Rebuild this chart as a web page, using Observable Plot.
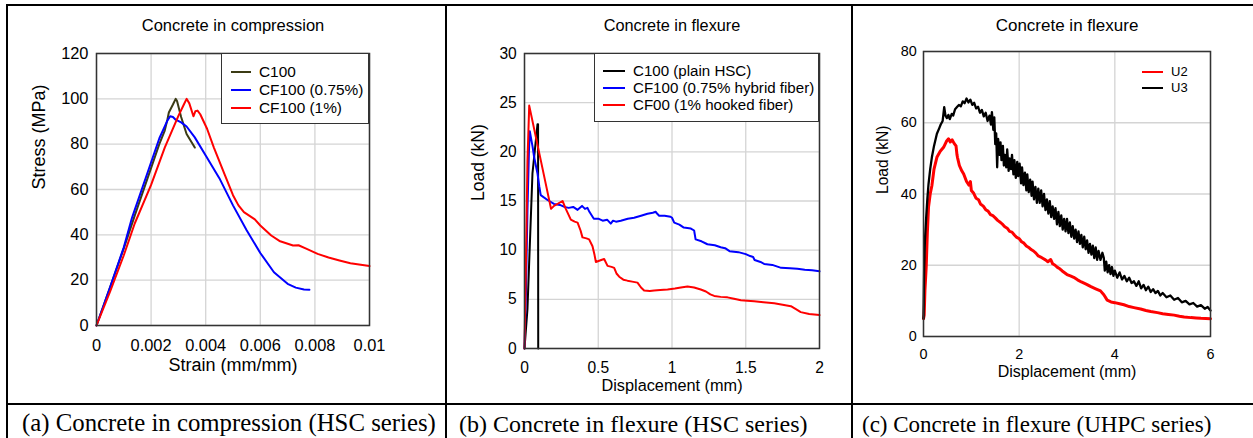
<!DOCTYPE html>
<html><head><meta charset="utf-8">
<script src="https://cdn.jsdelivr.net/npm/d3@7"></script>
<script src="https://cdn.jsdelivr.net/npm/@observablehq/plot@0.6"></script>
<style>
html,body{margin:0;padding:0;background:#fff;}
#root{position:relative;width:1253px;height:438px;overflow:hidden;background:#fff;font-family:'Liberation Sans',Arial,sans-serif;}
.pl{position:absolute;}
.hl{position:absolute;background:#000;}
.cap{position:absolute;font-family:'Liberation Serif','Times New Roman',serif;white-space:nowrap;color:#000;}
.leg{position:absolute;background:#fff;box-sizing:border-box;}
.sw{position:absolute;height:2px;}
.lt{position:absolute;white-space:nowrap;line-height:18px;color:#000;}
</style></head><body><div id="root"></div>
<script>
// ---------- Panel (a): Concrete in compression ----------
const aTitle = "Concrete in compression";
const aXLabel = "Strain (mm/mm)";
const aYLabel = "Stress (MPa)";
const aXTicks = [0, 0.002, 0.004, 0.006, 0.008, 0.01];
const aXTickLabels = ["0", "0.002", "0.004", "0.006", "0.008", "0.01"];
const aYTicks = [0, 20, 40, 60, 80, 100, 120];
const aYTickLabels = ["0", "20", "40", "60", "80", "100", "120"];
const aNames = ["C100", "CF100 (0.75%)", "CF100 (1%)"];
const aColors = ["#3b3b14", "#0000ff", "#ff0000"];
const aC100 = [[0,0],[0.0005,17],[0.001,34],[0.0014,48.5],[0.0019,66],[0.0023,80],[0.0025,86],[0.0026,91],[0.00265,94],[0.0028,97.5],[0.0029,100],[0.00295,99],[0.0031,92],[0.0033,84.5],[0.0036,78.5]];
const aCF075 = [[0,0],[0.0005,17],[0.001,34.5],[0.0013,47.5],[0.0019,68.5],[0.0023,82.5],[0.0026,90.5],[0.0027,92.3],[0.0028,92],[0.0029,90.8],[0.0031,89.6],[0.0033,87.8],[0.0036,83],[0.004,75],[0.0045,65],[0.005,53],[0.0055,42],[0.006,32],[0.0065,23.5],[0.007,18.4],[0.0073,16.7],[0.0076,15.9],[0.0078,15.8]];
const aCF1 = [[0,0],[0.0005,15],[0.001,31],[0.0014,45],[0.002,62],[0.0025,78.5],[0.003,92.5],[0.0032,97.5],[0.0033,100],[0.0034,98],[0.00355,92.3],[0.00362,94.5],[0.0037,94.8],[0.0038,93.2],[0.00405,86.8],[0.0043,78.5],[0.0047,66.5],[0.005,57.5],[0.0052,53],[0.0054,50],[0.0058,46.8],[0.006,44.1],[0.0064,39.7],[0.0067,37.3],[0.0072,35.3],[0.0074,35.4],[0.0077,33.8],[0.0081,31.6],[0.0085,30],[0.0089,28.7],[0.0093,27.5],[0.01,26.2]];

// ---------- Panel (b): Concrete in flexure (HSC) ----------
const bTitle = "Concrete in flexure";
const bXLabel = "Displacement (mm)";
const bYLabel = "Load (kN)";
const bXTicks = [0, 0.5, 1, 1.5, 2];
const bXTickLabels = ["0", "0.5", "1", "1.5", "2"];
const bYTicks = [0, 5, 10, 15, 20, 25, 30];
const bYTickLabels = ["0", "5", "10", "15", "20", "25", "30"];
const bNames = ["C100 (plain HSC)", "CF100 (0.75% hybrid fiber)", "CF00 (1% hooked fiber)"];
const bColors = ["#000000", "#0000ff", "#ff0000"];
const bC100 = [[0,0],[0.02,4],[0.054,17.8],[0.088,22.8],[0.092,22.8],[0.093,0]];
const bCF075 = [[0,0],[0.01,6],[0.02,14],[0.03,20],[0.036,22.1],[0.043,21.5],[0.055,20.5],[0.065,19.5],[0.088,17.8],[0.1,16.5],[0.11,15.6],[0.156,15.1],[0.2,14.7],[0.24,14.6],[0.27,14.4],[0.3,14.3],[0.33,14.4],[0.36,14.1],[0.39,14.5],[0.41,14.2],[0.427,14.3],[0.44,13.9],[0.47,13.2],[0.5,13.2],[0.53,13.0],[0.56,13.1],[0.585,12.7],[0.6,13.0],[0.62,12.9],[0.653,13.0],[0.7,13.2],[0.743,13.3],[0.79,13.5],[0.834,13.7],[0.87,13.8],[0.89,13.9],[0.9,13.7],[0.913,13.5],[0.95,13.5],[0.99,13.4],[1.0,13.3],[1.015,12.8],[1.05,12.6],[1.08,12.3],[1.128,12.2],[1.15,12.0],[1.16,11.1],[1.2,10.9],[1.24,10.6],[1.29,10.5],[1.33,10.3],[1.36,10.2],[1.39,9.9],[1.45,9.8],[1.5,9.6],[1.53,9.4],[1.55,9.3],[1.56,9.0],[1.6,8.8],[1.625,8.6],[1.68,8.5],[1.74,8.2],[1.8,8.15],[1.85,8.1],[1.9,8.0],[1.95,7.95],[2.0,7.85]];
const bCF1 = [[0,0],[0.01,9],[0.02,19],[0.032,24.7],[0.18,14.2],[0.2,14.5],[0.258,15.0],[0.28,14.2],[0.314,13.1],[0.34,12.9],[0.36,12.8],[0.38,12.0],[0.393,11.3],[0.42,11.2],[0.438,11.1],[0.461,10.4],[0.475,9.5],[0.484,8.8],[0.52,9.0],[0.54,9.1],[0.563,8.4],[0.59,8.3],[0.608,8.2],[0.625,7.6],[0.642,7.3],[0.67,7.0],[0.698,6.9],[0.73,6.8],[0.766,6.7],[0.79,6.2],[0.811,5.9],[0.85,5.85],[0.879,5.9],[0.92,5.95],[0.97,6.0],[1.02,6.1],[1.06,6.2],[1.105,6.3],[1.15,6.2],[1.195,6.0],[1.23,5.8],[1.26,5.5],[1.286,5.35],[1.33,5.25],[1.376,5.2],[1.42,5.05],[1.467,4.9],[1.51,4.85],[1.557,4.8],[1.62,4.7],[1.693,4.6],[1.75,4.45],[1.806,4.3],[1.84,4.0],[1.873,3.7],[1.93,3.5],[2.0,3.4]];

// ---------- Panel (c): Concrete in flexure (UHPC) ----------
const cTitle = "Concrete in flexure";
const cXLabel = "Displacement (mm)";
const cYLabel = "Load (kN)";
const cXTicks = [0, 2, 4, 6];
const cXTickLabels = ["0", "2", "4", "6"];
const cYTicks = [0, 20, 40, 60, 80];
const cYTickLabels = ["0", "20", "40", "60", "80"];
const cNames = ["U2", "U3"];
const cColors = ["#ff0000", "#000000"];
const cU2 = [[0,5],[0.014,6],[0.03,13],[0.056,19.4],[0.08,29],[0.105,36.3],[0.14,40],[0.175,42.3],[0.22,47],[0.28,50.3],[0.35,52],[0.42,53.1],[0.48,54.8],[0.524,55.5],[0.56,54.6],[0.6,55.2],[0.64,54.2],[0.68,53.5],[0.7,51],[0.71,50.3],[0.75,48],[0.8,46.5],[0.84,45.6],[0.9,43.5],[0.95,42.5],[0.98,43.5],[1.0,41],[1.05,40.2],[1.1,38.8],[1.15,38.4],[1.19,37.2],[1.25,36.6],[1.3,35.6],[1.35,35.2],[1.4,34.2],[1.45,33.9],[1.5,33.3],[1.55,32.6],[1.61,32],[1.66,31.4],[1.7,30.8],[1.75,30.4],[1.8,29.5],[1.85,29.3],[1.9,28.5],[1.95,27.8],[2.0,27.5],[2.05,26.6],[2.1,26.2],[2.15,25.4],[2.2,25],[2.25,24.4],[2.3,24],[2.35,23.4],[2.4,22.6],[2.45,22.3],[2.5,21.9],[2.55,21.5],[2.6,21.0],[2.66,21.6],[2.7,20.4],[2.75,20.0],[2.8,19.4],[2.85,19.0],[2.9,18.4],[2.95,17.9],[3.0,17.4],[3.07,17.0],[3.14,16.6],[3.22,15.9],[3.3,15.3],[3.4,14.7],[3.5,14.0],[3.6,13.4],[3.7,12.8],[3.77,11.7],[3.84,10.2],[3.92,9.7],[4.0,9.5],[4.1,9.2],[4.19,8.9],[4.3,8.4],[4.4,8.1],[4.54,7.7],[4.65,7.3],[4.75,7.0],[4.89,6.7],[5.0,6.4],[5.12,6.2],[5.24,6.0],[5.35,5.7],[5.45,5.5],[5.59,5.3],[5.7,5.2],[5.8,5.1],[5.9,5.05],[6.0,5.0]];
const cU3 = [[0,5],[0.01,15],[0.014,19.4],[0.03,27],[0.056,33.4],[0.08,38.5],[0.105,42.8],[0.14,47],[0.175,50.3],[0.22,53.5],[0.28,56.9],[0.33,58.5],[0.36,59.5],[0.4,60.5],[0.433,64.4],[0.46,62],[0.49,61.3],[0.52,62.2],[0.55,61],[0.59,62.5],[0.62,62],[0.66,63.8],[0.7,64.4],[0.74,65],[0.78,64.6],[0.82,66],[0.86,65.5],[0.9,66.8],[0.94,65.7],[0.98,66.5],[1.02,65],[1.06,65.6],[1.1,64],[1.14,64.5],[1.18,62.8],[1.22,63.6],[1.26,61.8],[1.3,62.8],[1.34,60.5],[1.38,62],[1.41,59.5],[1.43,63],[1.46,58],[1.48,61.5],[1.5,54],[1.52,57],[1.54,47.5],[1.56,55.5],[1.59,51],[1.61,54.5],[1.63,49.5],[1.66,53.5],[1.68,48],[1.7,51],[1.73,47.5],[1.75,52.5],[1.78,46.5],[1.8,50],[1.83,47],[1.85,51],[1.88,45.5],[1.9,49.5],[1.93,44.5],[1.96,49],[1.98,45],[2.01,48.5],[2.04,43],[2.06,47.5],[2.09,42.5],[2.12,46],[2.15,41],[2.17,45.5],[2.2,40.5],[2.23,44],[2.26,39.5],[2.28,43.5],[2.31,38.5],[2.34,42],[2.37,37.5],[2.4,41.5],[2.43,37.5],[2.46,41],[2.49,36.5],[2.52,40],[2.55,35.5],[2.58,38.5],[2.61,34.5],[2.64,38],[2.67,33.5],[2.7,36.5],[2.73,33],[2.76,36],[2.79,31.5],[2.82,35],[2.85,31],[2.88,34],[2.91,30],[2.94,33],[2.97,29.5],[3.0,33],[3.03,29],[3.06,32],[3.09,28],[3.12,31],[3.15,27.5],[3.18,30],[3.21,26.5],[3.24,29.5],[3.27,26],[3.3,28.5],[3.33,25],[3.36,28],[3.39,24.5],[3.42,27],[3.45,23.5],[3.48,26],[3.51,23],[3.54,25.5],[3.57,22],[3.6,25],[3.63,21.5],[3.66,24],[3.7,21.5],[3.74,23.5],[3.77,22],[3.79,18.5],[3.82,21],[3.85,18],[3.88,20],[3.91,17.5],[3.94,19.5],[3.97,17],[4.0,18.5],[4.05,16.5],[4.1,18],[4.15,16],[4.2,17],[4.25,15.5],[4.3,16.5],[4.35,15],[4.4,15.5],[4.45,14.2],[4.5,15.5],[4.55,13.5],[4.6,14.5],[4.65,13],[4.7,14],[4.75,12.5],[4.8,13.3],[4.85,12.2],[4.9,12.8],[4.95,11.5],[5.0,12.2],[5.08,11],[5.16,11.5],[5.24,10.3],[5.32,10.8],[5.4,9.6],[5.48,10],[5.56,9],[5.64,9.4],[5.72,8.4],[5.8,8.8],[5.88,7.8],[5.94,8.3],[6.0,7.3]];

// Captions
const captions = ["(a) Concrete in compression (HSC series)", "(b) Concrete in flexure (HSC series)", "(c) Concrete in flexure (UHPC series)"];

const root = document.getElementById("root");
const FONT = "'Liberation Sans', Arial, sans-serif";

function panel(c) {
  const fmt = (ticks, labels) => (d) => labels[ticks.indexOf(d)];
  const svg = Plot.plot({
    width: c.width, height: c.height,
    marginLeft: c.m[0], marginRight: c.m[1], marginTop: c.m[2], marginBottom: c.m[3],
    x: {domain: c.xDomain, label: null},
    y: {domain: c.yDomain, label: null},
    style: {fontFamily: FONT, fontSize: c.tickFont + "px", background: "transparent", color: "#000", overflow: "visible"},
    marks: [
      Plot.gridX(c.xTicks, {stroke: "#d4d4d4", strokeOpacity: 1, strokeWidth: 1.3}),
      Plot.gridY(c.yTicks, {stroke: "#d4d4d4", strokeOpacity: 1, strokeWidth: 1.3}),
      ...c.series.map((s, i) => Plot.line(s, {x: (d) => d[0], y: (d) => d[1], stroke: c.colors[i], strokeWidth: c.widths[i]})),
      Plot.frame({stroke: "#333", strokeWidth: 1.5}),
      Plot.axisX(c.xTicks, {tickSize: 0, tickPadding: c.xPad, fontSize: c.tickFont, tickFormat: fmt(c.xTicks, c.xTickLabels), label: null}),
      Plot.axisY(c.yTicks, {tickSize: 0, tickPadding: c.yPad, fontSize: c.tickFont, tickFormat: fmt(c.yTicks, c.yTickLabels), label: null}),
      Plot.text([c.title], {frameAnchor: "top", dy: c.titleDy, lineAnchor: "bottom", fontSize: c.titleFont, text: (d) => d}),
      Plot.text([c.xLabel], {frameAnchor: "bottom", dy: c.xLabelDy, lineAnchor: "bottom", fontSize: c.xLabelFont, text: (d) => d}),
      Plot.text([c.yLabel], {frameAnchor: "left", dx: c.yLabelDx, rotate: -90, lineAnchor: "bottom", fontSize: c.yLabelFont, text: (d) => d})
    ]
  });
  const wrap = document.createElement("div");
  wrap.className = "pl";
  wrap.style.left = c.left + "px";
  wrap.style.top = c.top + "px";
  wrap.appendChild(svg);
  root.appendChild(wrap);
}

function legend(c) {
  const box = document.createElement("div");
  box.className = "leg";
  Object.assign(box.style, {left: c.left + "px", top: c.top + "px", width: c.width + "px", height: c.height + "px",
    border: c.border ? "1.5px solid #333" : "none", background: c.border ? "#fff" : "transparent"});
  c.names.forEach((name, i) => {
    const sw = document.createElement("div");
    sw.className = "sw";
    Object.assign(sw.style, {left: c.sx + "px", width: c.sw + "px", top: (c.rows[i] - 1) + "px", background: c.colors[i]});
    box.appendChild(sw);
    const t = document.createElement("div");
    t.className = "lt";
    t.textContent = name;
    Object.assign(t.style, {left: c.tx + "px", top: (c.rows[i] - 9) + "px", fontSize: c.font + "px"});
    box.appendChild(t);
  });
  root.appendChild(box);
}

// Table lines
[[6,4,1247,2],[6,403,1247,2],[6,4,2,434],[445,4,2,434],[851,4,2,434]].forEach(([l,t,w,h]) => {
  const d = document.createElement("div");
  d.className = "hl";
  Object.assign(d.style, {left: l + "px", top: t + "px", width: w + "px", height: h + "px"});
  root.appendChild(d);
});

panel({left: 8, top: 6, width: 437, height: 397, m: [88, 76, 47, 78],
  xDomain: [0, 0.01], yDomain: [0, 120], xTicks: aXTicks, xTickLabels: aXTickLabels, yTicks: aYTicks, yTickLabels: aYTickLabels,
  tickFont: 16.4, xPad: 13.4, yPad: 8, series: [aC100, aCF075, aCF1], colors: aColors, widths: [2, 2, 2],
  title: aTitle, titleFont: 16.5, titleDy: -22.5, xLabel: aXLabel, xLabelFont: 18, xLabelDy: 45.7, yLabel: aYLabel, yLabelFont: 18, yLabelDx: -52});

panel({left: 447, top: 6, width: 404, height: 397, m: [77, 32, 47, 55],
  xDomain: [0, 2], yDomain: [0, 30], xTicks: bXTicks, xTickLabels: bXTickLabels, yTicks: bYTicks, yTickLabels: bYTickLabels,
  tickFont: 15.6, xPad: 13.2, yPad: 7.7, series: [bC100, bCF075, bCF1], colors: bColors, widths: [2, 2, 2],
  title: bTitle, titleFont: 16.3, titleDy: -22.7, xLabel: bXLabel, xLabelFont: 16.3, xLabelDy: 42.7, yLabel: bYLabel, yLabelFont: 17.5, yLabelDx: -41});

panel({left: 853, top: 6, width: 400, height: 397, m: [70, 43, 45, 67],
  xDomain: [0, 6], yDomain: [0, 80], xTicks: cXTicks, xTickLabels: cXTickLabels, yTicks: cYTicks, yTickLabels: cYTickLabels,
  tickFont: 14.4, xPad: 11.8, yPad: 6.7, series: [cU2, cU3], colors: cColors, widths: [3, 2.3],
  title: cTitle, titleFont: 17, titleDy: -21, xLabel: cXLabel, xLabelFont: 16, xLabelDy: 40, yLabel: cYLabel, yLabelFont: 15.6, yLabelDx: -36});

legend({left: 221, top: 53, width: 148, height: 71, border: true, names: aNames, colors: aColors,
  sx: 9, sw: 20, tx: 37, rows: [18, 36, 54], font: 15.4});
legend({left: 594, top: 53, width: 225, height: 69, border: true, names: bNames, colors: bColors,
  sx: 8, sw: 22, tx: 38, rows: [17, 34.3, 51.3], font: 15.1});
legend({left: 1142, top: 60, width: 60, height: 40, border: false, names: cNames, colors: cColors,
  sx: 0, sw: 21, tx: 29, rows: [11.7, 27.7], font: 13});

// Captions (baseline at y = 432)
[[22, captions[0], 24.8], [459, captions[1], 24], [862, captions[2], 23]].forEach(([l, txt, fs]) => {
  const d = document.createElement("div");
  d.className = "cap";
  d.textContent = txt;
  Object.assign(d.style, {left: l + "px", top: (432 - 0.8375 * fs) + "px", fontSize: fs + "px", lineHeight: fs + "px"});
  root.appendChild(d);
});
</script></body></html>
